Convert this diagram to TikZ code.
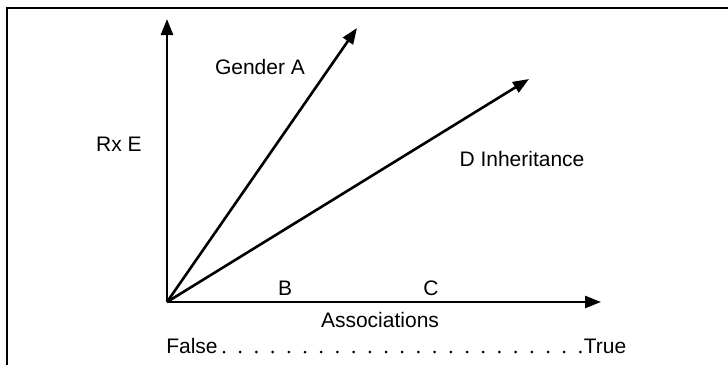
\documentclass[tikz,border=0pt]{standalone}
\usepackage{fontspec}
\setmainfont{Liberation Sans}
\usetikzlibrary{arrows.meta}
\begin{document}
\begin{tikzpicture}[x=1pt,y=-1pt,
  axis/.style={line width=2.6pt,-{Triangle[length=16pt,width=12pt]}},
  lbl/.style={anchor=base,inner sep=0pt,font=\fontsize{21}{25}\selectfont},
  dotsline/.style={line width=3pt,line cap=round,dash pattern=on 0pt off 16.2pt}]
\useasboundingbox (0,0) rectangle (728,364);
\clip (0,0) rectangle (728,364);
\draw[line width=2.5pt] (7,8) rectangle (760,400);
\coordinate (O) at (167,302);
\coordinate (Ytip) at (167,19);
\coordinate (Atip) at (357,28);
\coordinate (Dtip) at (529,79);
\coordinate (Xtip) at (601,302);
\draw[axis] (O) -- (Ytip);
\draw[axis] (O) -- (Atip);
\draw[axis] (O) -- (Dtip);
\draw[axis] (O) -- (Xtip);
\node[lbl] (gender) at (260,74) {Gender A};
\node[lbl] (rx) at (119,151.5) {Rx E};
\node[lbl] (dinh) at (522,166) {D Inheritance};
\node[lbl] (b) at (285,295) {B};
\node[lbl] (c) at (431,295) {C};
\node[lbl] (assoc) at (380,327) {Associations};
\node[lbl] (false) at (192,353) {False};
\node[lbl] (true) at (605,353) {True};
\coordinate (d1) at (224,352);
\coordinate (d2) at (581,352);
\draw[dotsline] (d1) -- (d2);
\end{tikzpicture}
\end{document}
